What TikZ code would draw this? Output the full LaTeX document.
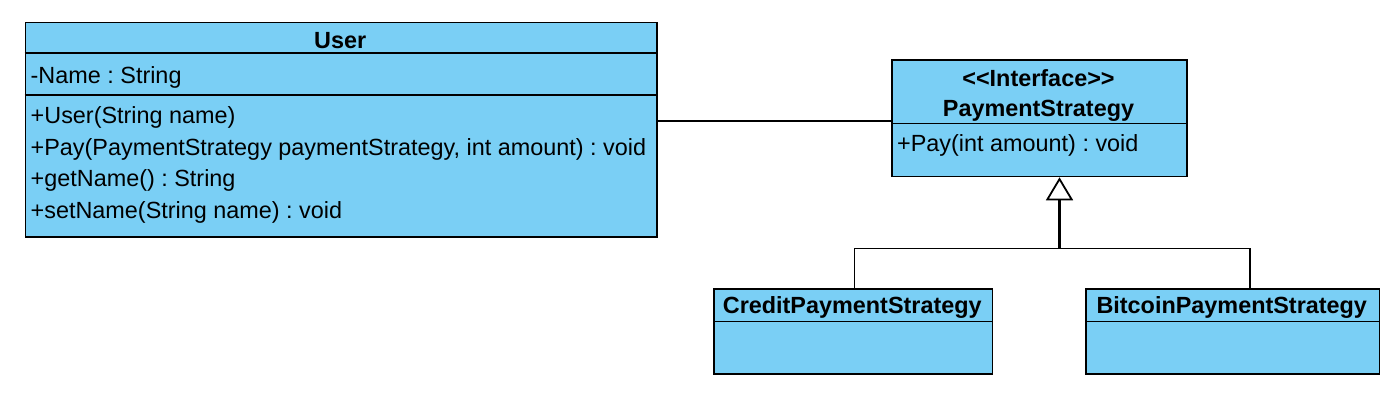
\documentclass[tikz,border=0pt]{standalone}
\usepackage{fontspec}
\setmainfont[Ligatures=NoCommon]{Liberation Sans}
\frenchspacing
\usetikzlibrary{arrows.meta}
\definecolor{umlfill}{RGB}{122,207,245}
\tikzset{
  classbox/.style={draw=black, fill=umlfill, line width=1.5pt, inner sep=0pt, anchor=north west},
  divider/.style={draw=black, line width=1.5pt},
  link/.style={draw=black, line width=1.5pt},
  member/.style={anchor=base west, inner sep=0pt, font=\fontsize{23.4}{28}\selectfont\frenchspacing},
  title/.style={anchor=base, inner sep=0pt, font=\fontsize{23.4}{28}\selectfont\bfseries\frenchspacing},
}
\begin{document}
\begin{tikzpicture}[x=1pt,y=-1pt]
\useasboundingbox (0,0) rectangle (1400,407);
% User class
\node[classbox, minimum width=631.5pt, minimum height=214.5pt] (user) at (24.5,21.5) {};
\draw[divider] (24.5,53) -- (656,53);
\draw[divider] (24.5,95) -- (656,95);
\node[title] (usert) at (340.25,48.5) {User};
\node[member] (ua) at (30.5,83.5) {-Name : String};
\node[member] (um1) at (30.5,123.7) {+User(String name)};
\node[member] (um2) at (30.5,155.2) {+Pay(PaymentStrategy paymentStrategy, int amount) : void};
\node[member] (um3) at (30.5,186.7) {+getName() : String};
\node[member] (um4) at (30.5,218.2) {+setName(String name) : void};
% Interface
\node[classbox, minimum width=295pt, minimum height=116.5pt] (iface) at (891,59.3) {};
\draw[divider] (891,123.5) -- (1186,123.5);
\node[title] (ifs) at (1038.5,86.9) {{<}{<}Interface{>}{>}};
\node[title] (ifn) at (1038.5,116.9) {PaymentStrategy};
\node[member] (ifm) at (897,151.9) {+Pay(int amount) : void};
% Credit
\node[classbox, minimum width=278.5pt, minimum height=85pt] (credit) at (713,288.3) {};
\draw[divider] (713,321.5) -- (991.5,321.5);
\node[title] (creditt) at (852.25,313.5) {CreditPaymentStrategy};
% Bitcoin
\node[classbox, minimum width=293.5pt, minimum height=85pt] (bitcoin) at (1085,288.3) {};
\draw[divider] (1085,321.5) -- (1378.5,321.5);
\node[title] (bitcoint) at (1231.75,313.5) {BitcoinPaymentStrategy};
% association
\coordinate (assocy) at (0,121);
\draw[link] (user.east |- assocy) -- (iface.west |- assocy);
% generalization
\coordinate (junc) at (1059.5,248.3);
\coordinate (cx) at (854.5,0);
\coordinate (bx) at (1250,0);
\draw[line width=2.2pt, -{Triangle[open, length=23pt, width=27pt, line width=1.8pt]}] (junc) -- (iface.south -| junc);
\draw[link] (credit.north -| cx) |- (junc) -| (bitcoin.north -| bx);
\end{tikzpicture}
\end{document}
